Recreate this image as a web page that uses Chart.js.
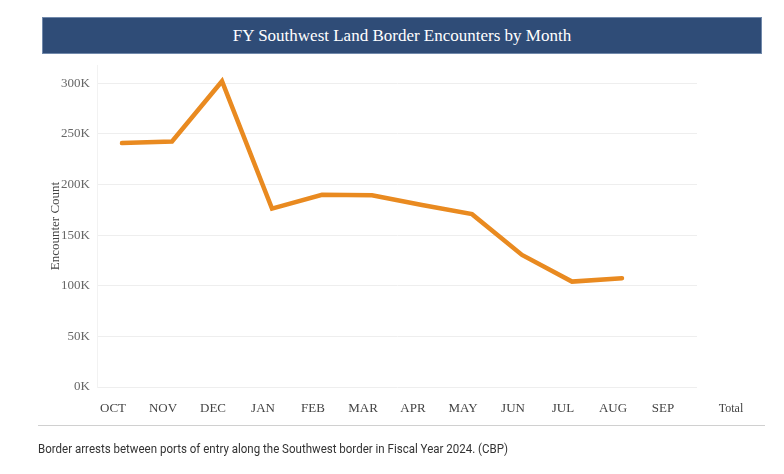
<!DOCTYPE html>
<html>
<head>
<meta charset="utf-8">
<script src="https://cdn.jsdelivr.net/npm/chart.js@4.4.1/dist/chart.umd.min.js"></script>
<style>
  html, body { margin: 0; padding: 0; background: #ffffff; }
  #wrap { position: relative; width: 784px; height: 474px; overflow: hidden; }
  #chartBox { position: absolute; left: 0; top: 0; width: 784px; height: 474px; }
  #banner {
    position: absolute; left: 42px; top: 17px; width: 718px; height: 35px;
    background: #2f4c77; border: 1px solid #7189ab;
    color: #ffffff; font-family: "Liberation Serif", "DejaVu Serif", serif;
    font-size: 17px; line-height: 35px; text-align: center;
  }
  #total {
    position: absolute; left: 711px; top: 400px; width: 40px; text-align: center;
    font-family: "Liberation Serif", serif; font-size: 12px; color: #444; line-height: 16px;
  }
  #sep { position: absolute; left: 38px; top: 425px; width: 727px; height: 0; border-top: 1px solid #d0d0d0; }
  #caption {
    position: absolute; left: 38px; top: 441px;
    font-family: "Roboto", "Liberation Sans", sans-serif; font-size: 13px; color: #333; line-height: 16px;
    white-space: nowrap; transform-origin: 0 0;
  }
</style>
</head>
<body>
<div id="wrap">
  <div id="chartBox"><canvas id="c" width="784" height="474"></canvas></div>
  <div id="banner">FY Southwest Land Border Encounters by Month</div>
  <div id="total">Total</div>
  <div id="sep"></div>
  <div id="caption">Border arrests between ports of entry along the Southwest border in Fiscal Year 2024. (CBP)</div>
</div>
<script>
const months = ['OCT','NOV','DEC','JAN','FEB','MAR','APR','MAY','JUN','JUL','AUG','SEP'];
const encounters = [240900, 242400, 302000, 176200, 189900, 189400, 179700, 170700, 130400, 104100, 107500, null];
const yTicks = [0, 50000, 100000, 150000, 200000, 250000, 300000];
const yTitle = 'Encounter Count';

// condensed caption: fit text to the reference width
(function () {
  const cap = document.getElementById('caption');
  const w = cap.getBoundingClientRect().width;
  if (w > 0) cap.style.transform = 'scaleX(' + (470 / w) + ')';
})();

new Chart(document.getElementById('c'), {
  type: 'line',
  data: {
    labels: months,
    datasets: [{
      data: encounters,
      borderColor: '#e98a20',
      borderWidth: 4.5,
      pointRadius: 0,
      pointHoverRadius: 0,
      tension: 0,
      fill: false,
      spanGaps: false,
      borderCapStyle: 'round',
      borderJoinStyle: 'miter'
    }]
  },
  options: {
    responsive: false,
    animation: false,
    devicePixelRatio: 1,
    plugins: { legend: { display: false }, tooltip: { enabled: false } },
    layout: { padding: { top: 65, right: 87, bottom: 47, left: 40 } },
    scales: {
      x: {
        type: 'category',
        offset: true,
        grid: { display: false, drawTicks: false },
        border: { display: false },
        ticks: {
          padding: 14,
          labelOffset: -9,
          maxRotation: 0,
          autoSkip: false,
          color: '#444',
          font: { family: 'Liberation Serif', size: 13 }
        },
        afterFit: s => { s.height = 40; }
      },
      y: {
        min: 0,
        max: 318000,
        afterBuildTicks: s => { s.ticks = yTicks.map(v => ({ value: v })); },
        grid: { color: '#eeeeee', lineWidth: 1, drawTicks: false },
        border: { display: true, color: '#f2f2f2' },
        ticks: {
          padding: 7,
          color: '#666',
          font: { family: 'Liberation Serif', size: 13 },
          callback: v => (v / 1000) + 'K'
        },
        title: {
          display: true,
          text: yTitle,
          color: '#444',
          font: { family: 'Liberation Serif', size: 13 },
          padding: { top: 8, bottom: 0 }
        },
        afterFit: s => { s.width = 57; }
      }
    }
  }
});
</script>
</body>
</html>
